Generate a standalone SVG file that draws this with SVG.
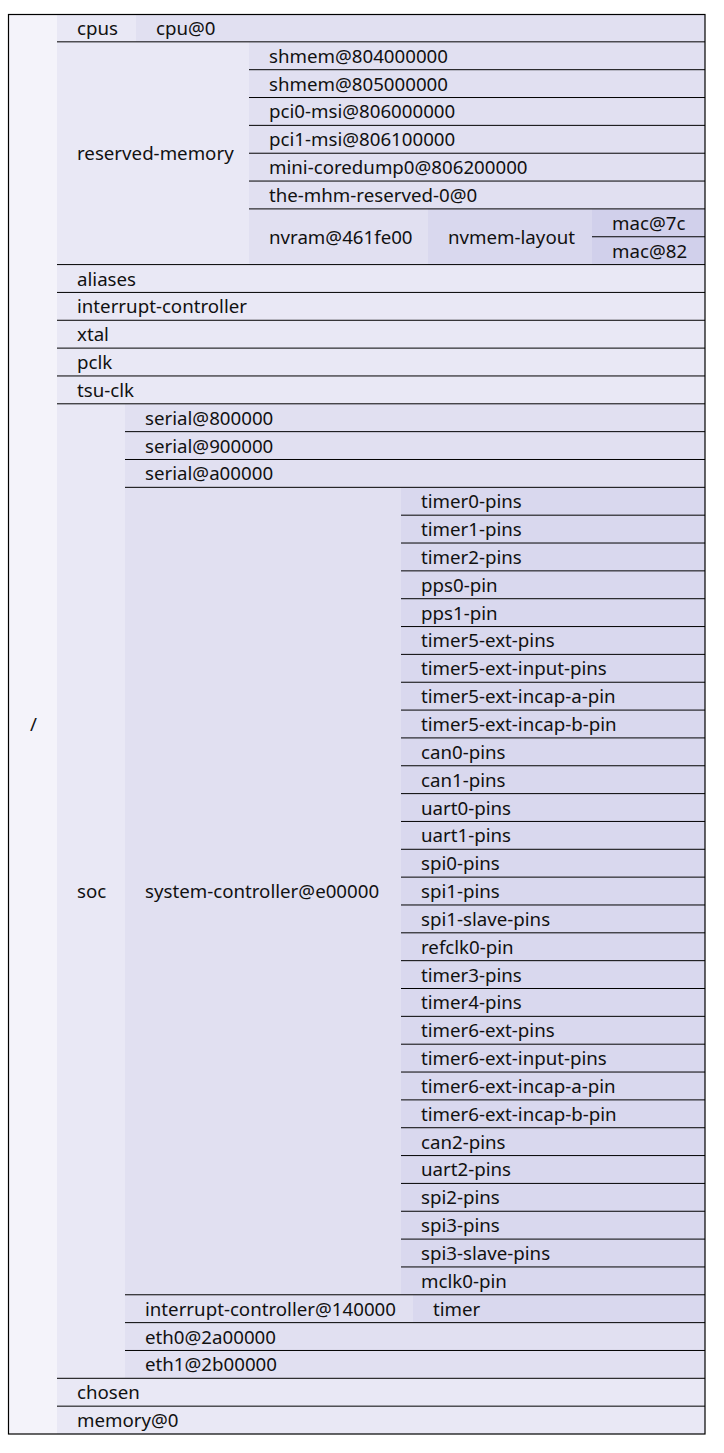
<svg xmlns="http://www.w3.org/2000/svg" width="724" height="1453" viewBox="0 0 724 1453">
<style>
text{font-family:"Noto Sans","Open Sans","DejaVu Sans",sans-serif;font-size:18.7px;fill:#111}
.d0{fill:#f4f3fa}.d1{fill:#e9e8f5}.d2{fill:#e1e0f1}.d3{fill:#d9d8ee}.d4{fill:#d1d0eb}
.sep line{stroke:#000;stroke-width:1}
</style>
<rect width="724" height="1453" fill="#fff"/>
<g id="n-root"><rect class="d0" x="8" y="14" width="697" height="1420"/><text x="30" y="731">/</text></g>
<g id="n-cpus"><rect class="d1" x="57" y="14" width="79" height="27.84"/><text x="77" y="34.92">cpus</text></g>
<g id="n-cpu0"><rect class="d2" x="136" y="14" width="569" height="27.84"/><text x="156" y="34.92">cpu@0</text></g>
<g id="n-reserved-memory"><rect class="d1" x="57" y="41.84" width="192" height="222.75"/><text x="77" y="160.22">reserved-memory</text></g>
<g id="n-shmem804"><rect class="d2" x="249" y="41.84" width="456" height="27.85"/><text x="269" y="62.77">shmem@804000000</text></g>
<g id="n-shmem805"><rect class="d2" x="249" y="69.69" width="456" height="27.84"/><text x="269" y="90.61">shmem@805000000</text></g>
<g id="n-pci0"><rect class="d2" x="249" y="97.53" width="456" height="27.84"/><text x="269" y="118.45">pci0-msi@806000000</text></g>
<g id="n-pci1"><rect class="d2" x="249" y="125.37" width="456" height="27.85"/><text x="269" y="146.30">pci1-msi@806100000</text></g>
<g id="n-minicore"><rect class="d2" x="249" y="153.22" width="456" height="27.84"/><text x="269" y="174.14">mini-coredump0@806200000</text></g>
<g id="n-mhm"><rect class="d2" x="249" y="181.06" width="456" height="27.84"/><text x="269" y="201.98">the-mhm-reserved-0@0</text></g>
<g id="n-nvram"><rect class="d2" x="249" y="208.90" width="179" height="55.69"/><text x="269" y="243.75">nvram@461fe00</text></g>
<g id="n-nvmem"><rect class="d3" x="428" y="208.90" width="164" height="55.69"/><text x="448" y="243.75">nvmem-layout</text></g>
<g id="n-mac7c"><rect class="d4" x="592" y="208.90" width="113" height="27.85"/><text x="612" y="229.83">mac@7c</text></g>
<g id="n-mac82"><rect class="d4" x="592" y="236.75" width="113" height="27.84"/><text x="612" y="257.67">mac@82</text></g>
<g id="n-aliases"><rect class="d1" x="57" y="264.59" width="648" height="27.84"/><text x="77" y="285.51">aliases</text></g>
<g id="n-intc"><rect class="d1" x="57" y="292.43" width="648" height="27.84"/><text x="77" y="313.35">interrupt-controller</text></g>
<g id="n-xtal"><rect class="d1" x="57" y="320.27" width="648" height="27.85"/><text x="77" y="341.20">xtal</text></g>
<g id="n-pclk"><rect class="d1" x="57" y="348.12" width="648" height="27.84"/><text x="77" y="369.04">pclk</text></g>
<g id="n-tsuclk"><rect class="d1" x="57" y="375.96" width="648" height="27.84"/><text x="77" y="396.88">tsu-clk</text></g>
<g id="n-soc"><rect class="d1" x="57" y="403.80" width="68" height="974.51"/><text x="77" y="898.06">soc</text></g>
<g id="n-serial800"><rect class="d2" x="125" y="403.80" width="580" height="27.85"/><text x="145" y="424.73">serial@800000</text></g>
<g id="n-serial900"><rect class="d2" x="125" y="431.65" width="580" height="27.84"/><text x="145" y="452.57">serial@900000</text></g>
<g id="n-seriala00"><rect class="d2" x="125" y="459.49" width="580" height="27.84"/><text x="145" y="480.41">serial@a00000</text></g>
<g id="n-sysctl"><rect class="d2" x="125" y="487.33" width="276" height="807.45"/><text x="145" y="898.06">system-controller@e00000</text></g>
<g id="pins">
<g id="n-timer0"><rect class="d3" x="401" y="487.33" width="304" height="27.85"/><text x="421" y="508.26">timer0-pins</text></g>
<g id="n-timer1"><rect class="d3" x="401" y="515.18" width="304" height="27.84"/><text x="421" y="536.10">timer1-pins</text></g>
<g id="n-timer2"><rect class="d3" x="401" y="543.02" width="304" height="27.84"/><text x="421" y="563.94">timer2-pins</text></g>
<g id="n-pps0"><rect class="d3" x="401" y="570.86" width="304" height="27.85"/><text x="421" y="591.79">pps0-pin</text></g>
<g id="n-pps1"><rect class="d3" x="401" y="598.71" width="304" height="27.84"/><text x="421" y="619.63">pps1-pin</text></g>
<g id="n-t5ext"><rect class="d3" x="401" y="626.55" width="304" height="27.84"/><text x="421" y="647.47">timer5-ext-pins</text></g>
<g id="n-t5inp"><rect class="d3" x="401" y="654.39" width="304" height="27.85"/><text x="421" y="675.32">timer5-ext-input-pins</text></g>
<g id="n-t5a"><rect class="d3" x="401" y="682.24" width="304" height="27.84"/><text x="421" y="703.16">timer5-ext-incap-a-pin</text></g>
<g id="n-t5b"><rect class="d3" x="401" y="710.08" width="304" height="27.84"/><text x="421" y="731.00">timer5-ext-incap-b-pin</text></g>
<g id="n-can0"><rect class="d3" x="401" y="737.92" width="304" height="27.84"/><text x="421" y="758.84">can0-pins</text></g>
<g id="n-can1"><rect class="d3" x="401" y="765.76" width="304" height="27.85"/><text x="421" y="786.69">can1-pins</text></g>
<g id="n-uart0"><rect class="d3" x="401" y="793.61" width="304" height="27.84"/><text x="421" y="814.53">uart0-pins</text></g>
<g id="n-uart1"><rect class="d3" x="401" y="821.45" width="304" height="27.84"/><text x="421" y="842.37">uart1-pins</text></g>
<g id="n-spi0"><rect class="d3" x="401" y="849.29" width="304" height="27.85"/><text x="421" y="870.22">spi0-pins</text></g>
<g id="n-spi1"><rect class="d3" x="401" y="877.14" width="304" height="27.84"/><text x="421" y="898.06">spi1-pins</text></g>
<g id="n-spi1s"><rect class="d3" x="401" y="904.98" width="304" height="27.84"/><text x="421" y="925.90">spi1-slave-pins</text></g>
<g id="n-refclk0"><rect class="d3" x="401" y="932.82" width="304" height="27.85"/><text x="421" y="953.75">refclk0-pin</text></g>
<g id="n-timer3"><rect class="d3" x="401" y="960.67" width="304" height="27.84"/><text x="421" y="981.59">timer3-pins</text></g>
<g id="n-timer4"><rect class="d3" x="401" y="988.51" width="304" height="27.84"/><text x="421" y="1009.43">timer4-pins</text></g>
<g id="n-t6ext"><rect class="d3" x="401" y="1016.35" width="304" height="27.85"/><text x="421" y="1037.28">timer6-ext-pins</text></g>
<g id="n-t6inp"><rect class="d3" x="401" y="1044.20" width="304" height="27.84"/><text x="421" y="1065.12">timer6-ext-input-pins</text></g>
<g id="n-t6a"><rect class="d3" x="401" y="1072.04" width="304" height="27.84"/><text x="421" y="1092.96">timer6-ext-incap-a-pin</text></g>
<g id="n-t6b"><rect class="d3" x="401" y="1099.88" width="304" height="27.85"/><text x="421" y="1120.81">timer6-ext-incap-b-pin</text></g>
<g id="n-can2"><rect class="d3" x="401" y="1127.73" width="304" height="27.84"/><text x="421" y="1148.65">can2-pins</text></g>
<g id="n-uart2"><rect class="d3" x="401" y="1155.57" width="304" height="27.84"/><text x="421" y="1176.49">uart2-pins</text></g>
<g id="n-spi2"><rect class="d3" x="401" y="1183.41" width="304" height="27.84"/><text x="421" y="1204.33">spi2-pins</text></g>
<g id="n-spi3"><rect class="d3" x="401" y="1211.25" width="304" height="27.85"/><text x="421" y="1232.18">spi3-pins</text></g>
<g id="n-spi3s"><rect class="d3" x="401" y="1239.10" width="304" height="27.84"/><text x="421" y="1260.02">spi3-slave-pins</text></g>
<g id="n-mclk0"><rect class="d3" x="401" y="1266.94" width="304" height="27.84"/><text x="421" y="1287.86">mclk0-pin</text></g>
</g>
<g id="n-intc140"><rect class="d2" x="125" y="1294.78" width="288" height="27.85"/><text x="145" y="1315.71">interrupt-controller@140000</text></g>
<g id="n-timer"><rect class="d3" x="413" y="1294.78" width="292" height="27.85"/><text x="433" y="1315.71">timer</text></g>
<g id="n-eth0"><rect class="d2" x="125" y="1322.63" width="580" height="27.84"/><text x="145" y="1343.55">eth0@2a00000</text></g>
<g id="n-eth1"><rect class="d2" x="125" y="1350.47" width="580" height="27.84"/><text x="145" y="1371.39">eth1@2b00000</text></g>
<g id="n-chosen"><rect class="d1" x="57" y="1378.31" width="648" height="27.85"/><text x="77" y="1399.24">chosen</text></g>
<g id="n-memory"><rect class="d1" x="57" y="1406.16" width="648" height="27.84"/><text x="77" y="1427.08">memory@0</text></g>
<g id="separators" class="sep">
<line x1="57" y1="41.84" x2="705" y2="41.84"/>
<line x1="249" y1="69.69" x2="705" y2="69.69"/>
<line x1="249" y1="97.53" x2="705" y2="97.53"/>
<line x1="249" y1="125.37" x2="705" y2="125.37"/>
<line x1="249" y1="153.22" x2="705" y2="153.22"/>
<line x1="249" y1="181.06" x2="705" y2="181.06"/>
<line x1="249" y1="208.90" x2="705" y2="208.90"/>
<line x1="592" y1="236.75" x2="705" y2="236.75"/>
<line x1="57" y1="264.59" x2="705" y2="264.59"/>
<line x1="57" y1="292.43" x2="705" y2="292.43"/>
<line x1="57" y1="320.27" x2="705" y2="320.27"/>
<line x1="57" y1="348.12" x2="705" y2="348.12"/>
<line x1="57" y1="375.96" x2="705" y2="375.96"/>
<line x1="57" y1="403.80" x2="705" y2="403.80"/>
<line x1="125" y1="431.65" x2="705" y2="431.65"/>
<line x1="125" y1="459.49" x2="705" y2="459.49"/>
<line x1="125" y1="487.33" x2="705" y2="487.33"/>
<line x1="401" y1="515.18" x2="705" y2="515.18"/>
<line x1="401" y1="543.02" x2="705" y2="543.02"/>
<line x1="401" y1="570.86" x2="705" y2="570.86"/>
<line x1="401" y1="598.71" x2="705" y2="598.71"/>
<line x1="401" y1="626.55" x2="705" y2="626.55"/>
<line x1="401" y1="654.39" x2="705" y2="654.39"/>
<line x1="401" y1="682.24" x2="705" y2="682.24"/>
<line x1="401" y1="710.08" x2="705" y2="710.08"/>
<line x1="401" y1="737.92" x2="705" y2="737.92"/>
<line x1="401" y1="765.76" x2="705" y2="765.76"/>
<line x1="401" y1="793.61" x2="705" y2="793.61"/>
<line x1="401" y1="821.45" x2="705" y2="821.45"/>
<line x1="401" y1="849.29" x2="705" y2="849.29"/>
<line x1="401" y1="877.14" x2="705" y2="877.14"/>
<line x1="401" y1="904.98" x2="705" y2="904.98"/>
<line x1="401" y1="932.82" x2="705" y2="932.82"/>
<line x1="401" y1="960.67" x2="705" y2="960.67"/>
<line x1="401" y1="988.51" x2="705" y2="988.51"/>
<line x1="401" y1="1016.35" x2="705" y2="1016.35"/>
<line x1="401" y1="1044.20" x2="705" y2="1044.20"/>
<line x1="401" y1="1072.04" x2="705" y2="1072.04"/>
<line x1="401" y1="1099.88" x2="705" y2="1099.88"/>
<line x1="401" y1="1127.73" x2="705" y2="1127.73"/>
<line x1="401" y1="1155.57" x2="705" y2="1155.57"/>
<line x1="401" y1="1183.41" x2="705" y2="1183.41"/>
<line x1="401" y1="1211.25" x2="705" y2="1211.25"/>
<line x1="401" y1="1239.10" x2="705" y2="1239.10"/>
<line x1="401" y1="1266.94" x2="705" y2="1266.94"/>
<line x1="125" y1="1294.78" x2="705" y2="1294.78"/>
<line x1="125" y1="1322.63" x2="705" y2="1322.63"/>
<line x1="125" y1="1350.47" x2="705" y2="1350.47"/>
<line x1="57" y1="1378.31" x2="705" y2="1378.31"/>
<line x1="57" y1="1406.16" x2="705" y2="1406.16"/>
</g>
<rect id="border" x="8.5" y="14.5" width="696.5" height="1419.5" fill="none" stroke="#000" stroke-width="1.2"/>
</svg>
